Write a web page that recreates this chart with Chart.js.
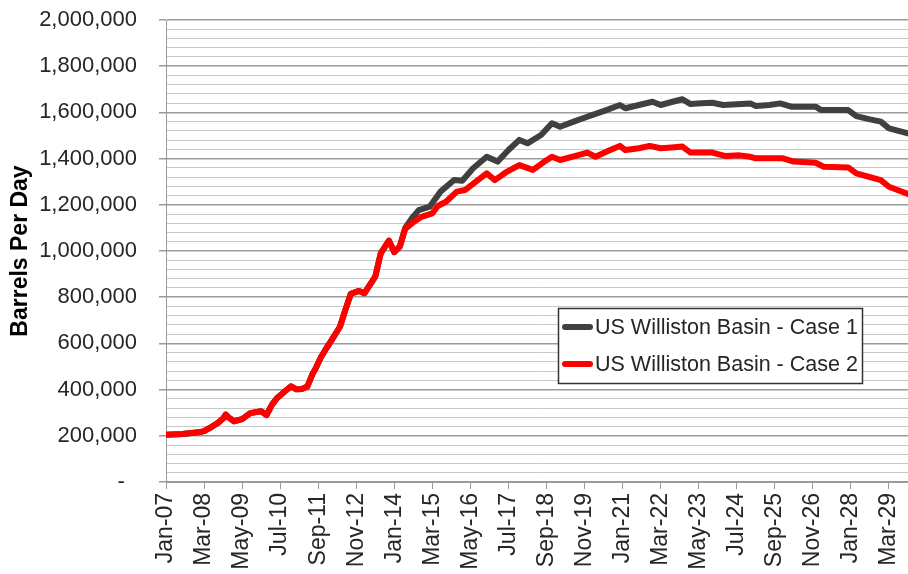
<!DOCTYPE html>
<html><head><meta charset="utf-8">
<script src="https://cdn.jsdelivr.net/npm/chart.js@4.4.1/dist/chart.umd.min.js"></script>
<style>html,body{margin:0;padding:0;background:#fff}canvas{display:block}</style>
</head><body>
<canvas id="c" width="908" height="574"></canvas>
<script>
// ---- data ----
const xTickLabels = ['Jan-07','Mar-08','May-09','Jul-10','Sep-11','Nov-12','Jan-14','Mar-15','May-16','Jul-17',
  'Sep-18','Nov-19','Jan-21','Mar-22','May-23','Jul-24','Sep-25','Nov-26','Jan-28','Mar-29'];
const seriesNames = ['US Williston Basin - Case 1', 'US Williston Basin - Case 2'];
// month index since Jan-07
const case1Months = [0,6,12,14,17,19,21,22,23,25,
  28,31,35,37,39,41,44,46,48,50,
  52,54,55,57,59,61,64,66,68,71,
  73,75,77,79,82,84,86,88,91,93,
  97,101,106,109,113,118,122,126,130,133,
  138,142,145,150,155,157,162,167,169,174,
  179,182,186,190,193,197,201,205,210,215,
  217,222,226,230,239,241,251,254,259,263,
  266,273];
const case1Values = [205000,208000,215000,220000,240000,255000,275000,292000,280000,263000,
  272000,298000,306000,290000,335000,365000,395000,414000,401000,403000,
  413000,470000,490000,540000,579000,615000,672000,745000,815000,827000,
  817000,853000,889000,990000,1045000,995000,1019000,1100000,1150000,1177000,
  1192000,1257000,1307000,1304000,1358000,1408000,1387000,1437000,1481000,1466000,
  1502000,1553000,1538000,1560000,1581000,1589000,1610000,1632000,1618000,1632000,
  1646000,1632000,1645000,1657000,1636000,1640000,1642000,1632000,1635000,1639000,
  1628000,1632000,1639000,1625000,1625000,1610000,1610000,1584000,1570000,1560000,
  1531000,1509000];
const case2Months = [0,6,12,14,17,19,21,22,23,25,
  28,31,35,37,39,41,44,46,48,50,
  52,54,55,57,59,61,64,66,68,71,
  73,75,77,79,82,84,86,88,91,94,
  98,100,103,107,110,114,118,121,125,130,
  135,139,142,145,150,155,158,163,167,169,
  174,178,182,186,190,193,201,206,211,215,
  217,227,231,239,242,251,254,259,263,266,
  273];
const case2Values = [205000,208000,215000,220000,240000,255000,275000,292000,280000,263000,
  272000,298000,306000,290000,335000,365000,395000,414000,401000,403000,
  413000,470000,490000,540000,579000,615000,672000,745000,815000,827000,
  817000,853000,889000,990000,1045000,995000,1019000,1095000,1125000,1148000,
  1163000,1195000,1213000,1257000,1264000,1300000,1336000,1307000,1340000,1372000,
  1351000,1385000,1408000,1394000,1410000,1426000,1408000,1435000,1455000,1437000,
  1445000,1455000,1445000,1448000,1452000,1426000,1426000,1411000,1414000,1408000,
  1401000,1401000,1387000,1382000,1365000,1362000,1336000,1320000,1307000,1278000,
  1247000];

// ---- styling / layout ----
const FONT = '"Liberation Sans", Arial, sans-serif';
const TXT = '#262626';
const colors = ['#404040', '#ff0000'];
const monthsPerTick = 14;

const toPts = (ms, vs) => ms.map((m, i) => ({x: m, y: vs[i]}));

const boxLegend = {
  id: 'boxLegend',
  afterDatasetsDraw(chart) {
    const ctx = chart.ctx;
    const x0 = 558, y0 = 308, w = 304, h = 75;
    ctx.save();
    ctx.fillStyle = '#fff';
    ctx.fillRect(x0, y0, w, h);
    ctx.strokeStyle = '#333';
    ctx.lineWidth = 1.5;
    ctx.strokeRect(x0 + 0.5, y0 + 0.5, w, h);
    const rows = [327, 364];
    ctx.font = '21.5px ' + FONT;
    ctx.textBaseline = 'middle';
    ctx.textAlign = 'left';
    seriesNames.forEach((name, i) => {
      ctx.strokeStyle = colors[i];
      ctx.lineWidth = 6;
      ctx.lineCap = 'round';
      ctx.beginPath();
      ctx.moveTo(565, rows[i]);
      ctx.lineTo(590, rows[i]);
      ctx.stroke();
      ctx.fillStyle = TXT;
      ctx.fillText(name, 595, rows[i] + 1);
    });
    ctx.restore();
  }
};

new Chart(document.getElementById('c'), {
  type: 'line',
  data: {
    datasets: [
      {label: seriesNames[0], data: toPts(case1Months, case1Values), borderColor: colors[0], order: 1},
      {label: seriesNames[1], data: toPts(case2Months, case2Values), borderColor: colors[1], order: 0}
    ]
  },
  options: {
    responsive: false,
    devicePixelRatio: 1,
    animation: false,
    layout: {padding: {top: 20, right: 0, bottom: 0, left: 0}},
    elements: {
      point: {radius: 0},
      line: {borderWidth: 6, tension: 0, borderJoinStyle: 'round', borderCapStyle: 'round'}
    },
    plugins: {legend: {display: false}, tooltip: {enabled: false}},
    scales: {
      x: {
        type: 'linear', min: 0, max: 273,
        afterFit: (s) => { s.height = 92; s.paddingRight = 0; },
        grid: {drawOnChartArea: false, drawTicks: true, tickLength: 7, color: '#9a9a9a', lineWidth: 1},
        border: {display: true, color: '#9a9a9a', width: 1},
        ticks: {
          stepSize: monthsPerTick, includeBounds: false, autoSkip: false,
          minRotation: 90, maxRotation: 90, padding: 4,
          color: TXT, font: {family: FONT, size: 23},
          callback: (v) => xTickLabels[Math.round(v / monthsPerTick)]
        }
      },
      y: {
        min: 0, max: 2000000,
        afterFit: (s) => { s.width = 166; s.paddingTop = 0; s.paddingBottom = 0; },
        title: {display: true, text: 'Barrels Per Day', color: '#000',
          font: {family: FONT, size: 23, weight: 'bold'}, padding: {top: 7, bottom: 0}},
        grid: {
          drawTicks: true, tickLength: 7,
          color: (c) => (c.tick && c.tick.value % 200000 === 0) ? '#9a9a9a' : '#c8c8c8',
          tickColor: (c) => (c.tick && c.tick.value % 200000 === 0) ? '#9a9a9a' : 'rgba(0,0,0,0)',
          lineWidth: (c) => (c.tick && c.tick.value % 200000 === 0) ? 1.5 : 1
        },
        border: {display: true, color: '#9a9a9a', width: 1},
        ticks: {
          stepSize: 40000, autoSkip: false, padding: 22,
          color: TXT, font: {family: FONT, size: 22},
          callback: (v) => v === 0 ? '-  ' : (v % 200000 === 0 ? v.toLocaleString('en-US') : '')
        }
      }
    }
  },
  plugins: [boxLegend]
});
</script>
</body></html>
